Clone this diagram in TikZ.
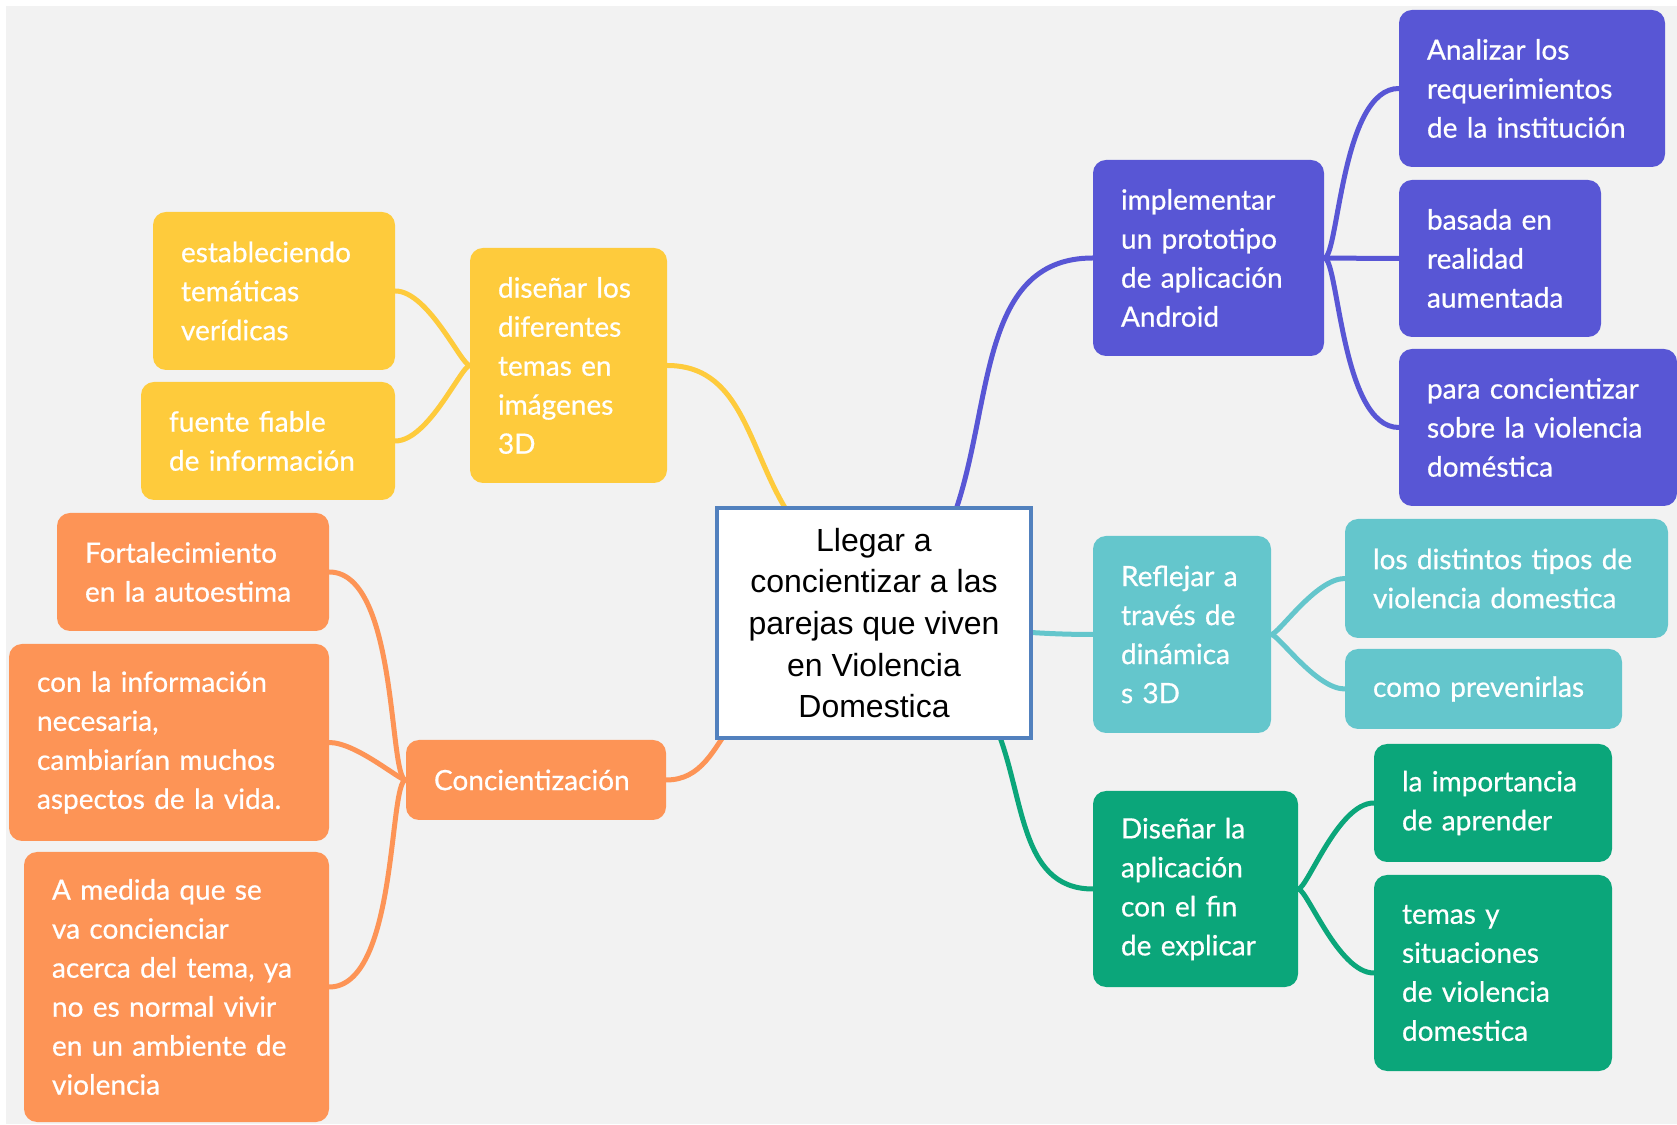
\documentclass[tikz,border=0pt]{standalone}
\usepackage{fontspec}
\setmainfont{Liberation Sans}
\newfontfamily\mapfont{Lato}[FakeBold=0.6]
\usepackage{tikz}
\usetikzlibrary{backgrounds}

\definecolor{bggray}{HTML}{F2F2F2}
\definecolor{centerline}{HTML}{5281BE}
\definecolor{yellowbox}{HTML}{FECB3C}
\definecolor{orangebox}{HTML}{FD9456}
\definecolor{purplebox}{HTML}{5856D5}
\definecolor{tealbox}{HTML}{64C6CC}
\definecolor{greenbox}{HTML}{0BA67A}

\begin{document}
\begin{tikzpicture}[
    x=1pt, y=1pt,
    central/.style={draw=centerline, line width=4.5pt, fill=white, align=center, minimum width=314pt, minimum height=230pt, font=\fontsize{32}{41.7}\selectfont},
    topic/.style={rounded corners=13pt, text=white, align=left, inner xsep=28pt, inner ysep=0pt, font=\mapfont\fontsize{28}{39}\selectfont},
    yellowtopic/.style={topic, fill=yellowbox},
    orangetopic/.style={topic, fill=orangebox},
    purpletopic/.style={topic, fill=purplebox},
    tealtopic/.style={topic, fill=tealbox},
    greentopic/.style={topic, fill=greenbox},
    link/.style={draw=#1, line width=5pt, line cap=round},
    toleft/.style={out=180, in=0, out looseness=0.2, in looseness=0.8},
    toright/.style={out=0, in=180, out looseness=0.2, in looseness=0.8}
]
    \useasboundingbox (0,0) rectangle (1677,1124);

    % Central idea
    \node[central] (cen) at (874,501) {Llegar a\\concientizar a las\\parejas que viven\\en Violencia\\Domestica};

    % Yellow branch
    \node[yellowtopic, text width=141pt, minimum height=235pt] (dis) at (568.5,758.5) {diseñar los\\diferentes\\temas en\\imágenes\\3D};
    \node[yellowtopic, text width=186pt, minimum height=158pt] (est) at (274,833) {estableciendo\\temáticas\\verídicas};
    \node[yellowtopic, text width=198pt, minimum height=118pt] (fue) at (268,683) {fuente fiable\\de información};

    % Orange branch
    \node[orangetopic, text width=204pt, minimum height=80pt] (conc) at (536,344) {Concientización};
    \node[orangetopic, text width=216pt, minimum height=118pt] (fort) at (193,552) {Fortalecimiento\\en la autoestima};
    \node[orangetopic, text width=264pt, minimum height=197pt] (info) at (169,381.5) {con la información\\necesaria,\\cambiarían muchos\\aspectos de la vida.};
    \node[orangetopic, text width=249pt, minimum height=270pt] (medida) at (176.5,137) {A medida que se\\va concienciar\\acerca del tema, ya\\no es normal vivir\\en un ambiente de\\violencia};

    % Purple branch
    \node[purpletopic, text width=175pt, minimum height=196pt] (impl) at (1208.5,866) {implementar\\un prototipo\\de aplicación\\Android};
    \node[purpletopic, text width=210pt, minimum height=157pt] (req) at (1532,1035.5) {Analizar los\\requerimientos\\de la institución};
    \node[purpletopic, text width=146pt, minimum height=157pt] (ra) at (1500,865.5) {basada en\\realidad\\aumentada};
    \node[purpletopic, text width=222pt, minimum height=157pt] (sobre) at (1538,696.5) {para concientizar\\sobre la violencia\\doméstica};

    % Teal branch
    \node[tealtopic, text width=122pt, minimum height=197pt] (ref) at (1182,489.5) {Reflejar a\\través de\\dinámica\\s 3D};
    \node[tealtopic, text width=267pt, minimum height=119pt] (tipos) at (1506.5,545.5) {los distintos tipos de\\violencia domestica};
    \node[tealtopic, text width=221pt, minimum height=80pt] (prev) at (1483.5,435) {como prevenirlas};

    % Green branch
    \node[greentopic, text width=149pt, minimum height=196pt] (expl) at (1195.5,235) {Diseñar la\\aplicación\\con el fin\\de explicar};
    \node[greentopic, text width=182pt, minimum height=118pt] (apr) at (1493,321) {la importancia\\de aprender};
    \node[greentopic, text width=182pt, minimum height=196pt] (sit) at (1493,151) {temas y\\situaciones\\de violencia\\domestica};

    \begin{scope}[on background layer]
        \fill[bggray] (6,0) rectangle (1677,1118);

        % Main branches
        \draw[link=yellowbox] (dis.east) to[out=0, in=127] ([xshift=-77pt, yshift=-20pt]cen.north);
        \draw[link=purplebox] (impl.west) to[out=180, in=68] ([xshift=76pt, yshift=-20pt]cen.north);
        \draw[link=tealbox] (ref.west) to[out=180, in=0] (cen.center);
        \draw[link=greenbox] (expl.west) to[out=180, in=-65] ([xshift=119pt, yshift=20pt]cen.south);
        \draw[link=orangebox] (conc.east) to[out=0, in=-125] ([xshift=-140pt, yshift=20pt]cen.south);

        % Sub-topics
        \draw[link=yellowbox] (dis.west) to[toleft] (est.east);
        \draw[link=yellowbox] (dis.west) to[toleft] (fue.east);
        \draw[link=orangebox] (conc.west) to[toleft] (fort.east);
        \draw[link=orangebox] (conc.west) to[toleft] (info.east);
        \draw[link=orangebox] (conc.west) to[toleft] (medida.east);
        \draw[link=purplebox] (impl.east) to[toright] (req.west);
        \draw[link=purplebox] (impl.east) to[toright] (ra.west);
        \draw[link=purplebox] (impl.east) to[toright] (sobre.west);
        \draw[link=tealbox] (ref.east) to[toright] (tipos.west);
        \draw[link=tealbox] (ref.east) to[toright] (prev.west);
        \draw[link=greenbox] (expl.east) to[toright] (apr.west);
        \draw[link=greenbox] (expl.east) to[toright] (sit.west);
    \end{scope}
\end{tikzpicture}
\end{document}
